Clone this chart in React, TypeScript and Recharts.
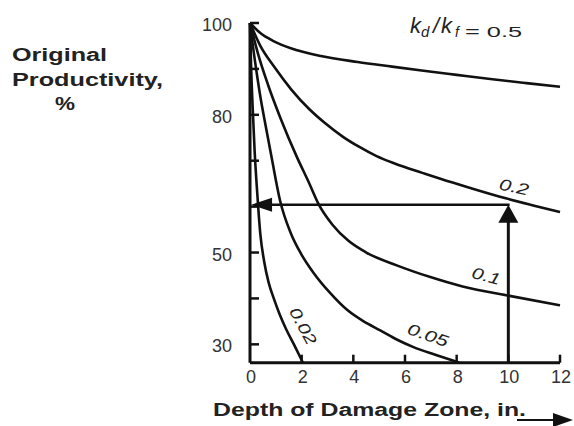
import React from "react";
import {
  LineChart,
  Line,
  XAxis,
  YAxis,
  ReferenceLine,
  ReferenceDot,
} from "recharts";

const FONT = "'Liberation Sans', Arial, Helvetica, sans-serif";
const INK = "#111";

const xTicks = [0, 2, 4, 6, 8, 10, 12];
const yTicks = [30, 40, 50, 60, 70, 80, 90, 100];
const yLabelled = [30, 50, 80, 100];

// curves: depth (in.) vs original productivity (%)
const ratio05 = [
  { x: 0, y: 100 }, { x: 0.4, y: 97.8 }, { x: 0.93, y: 96 }, { x: 1.58, y: 94.5 },
  { x: 2.74, y: 92.8 }, { x: 4.17, y: 91.5 }, { x: 5.5, y: 90.5 }, { x: 6.72, y: 89.6 },
  { x: 8, y: 88.7 }, { x: 9.3, y: 87.8 }, { x: 10.7, y: 86.9 }, { x: 12, y: 86.1 },
];
const ratio02 = [
  { x: 0, y: 100 }, { x: 0.4, y: 95 }, { x: 0.93, y: 90.5 }, { x: 1.6, y: 85.5 },
  { x: 2.3, y: 81.2 }, { x: 2.9, y: 78.2 }, { x: 3.6, y: 75.2 }, { x: 4.2, y: 73.1 },
  { x: 4.9, y: 71 }, { x: 5.6, y: 69.4 }, { x: 6.7, y: 67.3 }, { x: 7.4, y: 66 },
  { x: 8.5, y: 64.1 }, { x: 9.9, y: 61.8 }, { x: 11, y: 60.2 }, { x: 12, y: 58.8 },
];
const ratio01 = [
  { x: 0, y: 100 }, { x: 0.3, y: 93.5 }, { x: 0.7, y: 86.5 }, { x: 1.2, y: 79 },
  { x: 1.8, y: 71 }, { x: 2.3, y: 65 }, { x: 2.65, y: 60.6 }, { x: 3.2, y: 56 },
  { x: 3.8, y: 52.6 }, { x: 4.5, y: 50 }, { x: 5.68, y: 47.2 }, { x: 6.95, y: 44.7 },
  { x: 8.23, y: 42.6 }, { x: 10.1, y: 40.5 }, { x: 12, y: 38.5 },
];
const ratio005 = [
  { x: 0, y: 100 }, { x: 0.1, y: 95.5 }, { x: 0.25, y: 89.5 }, { x: 0.4, y: 84 },
  { x: 0.6, y: 77.8 }, { x: 0.85, y: 70.3 }, { x: 1.16, y: 61.4 }, { x: 1.58, y: 54.2 },
  { x: 2, y: 49.5 }, { x: 2.47, y: 45.5 }, { x: 3.1, y: 41.2 }, { x: 3.78, y: 37.4 },
  { x: 4.4, y: 35 }, { x: 5.06, y: 33 }, { x: 5.7, y: 31 }, { x: 6.33, y: 29.4 },
  { x: 7.2, y: 27.7 }, { x: 8.1, y: 26 },
];
const ratio002 = [
  { x: 0, y: 100 }, { x: 0.04, y: 91 }, { x: 0.1, y: 82 }, { x: 0.18, y: 72 },
  { x: 0.28, y: 63 }, { x: 0.4, y: 54 }, { x: 0.55, y: 48 }, { x: 0.72, y: 43.5 },
  { x: 0.92, y: 40 }, { x: 1.15, y: 36.5 }, { x: 1.4, y: 33.3 }, { x: 1.7, y: 30 },
  { x: 2.05, y: 26 },
];

// the worked example: 10 in. of damage with kd/kf = 0.2
const exampleDepth = 10;
const exampleResult = 60.4;

const curves = [ratio05, ratio02, ratio01, ratio005, ratio002];

const curveLabels = [
  { text: "0.2", x: 10.22, y: 64.3, angle: 12, len: 30 },
  { text: "0.1", x: 9.14, y: 44.9, angle: 15, len: 29 },
  { text: "0.05", x: 6.89, y: 32.0, angle: 19, len: 42 },
  { text: "0.02", x: 2.05, y: 34.0, angle: 62, len: 40 },
];

function YTick({ x, y, payload }: any) {
  const v = payload.value;
  return (
    <g>
      <line x1={x} x2={x + 9} y1={y} y2={y} stroke={INK} strokeWidth={2.5} />
      {yLabelled.includes(v) && (
        <text x={x - 18} y={y + 8} textAnchor="end" fontSize={18} fill="#333" fontFamily={FONT}>
          {v}
        </text>
      )}
    </g>
  );
}

function XTick({ x, y, payload }: any) {
  const v = payload.value;
  return (
    <g>
      {v !== 0 && <line x1={x} x2={x} y1={y} y2={y - 8} stroke={INK} strokeWidth={2.5} />}
      <text x={x + 1} y={y + 20} textAnchor="middle" fontSize={18} fill="#333" fontFamily={FONT}>
        {v}
      </text>
    </g>
  );
}

function CurveText({ cx, cy, text, angle, len }: any) {
  return (
    <text
      x={cx}
      y={cy}
      transform={`rotate(${angle}, ${cx}, ${cy})`}
      textAnchor="middle"
      dominantBaseline="central"
      fontSize={16}
      fontStyle="italic"
      fill="#222"
      fontFamily={FONT}
      textLength={len}
      lengthAdjust="spacingAndGlyphs"
    >
      {text}
    </text>
  );
}

function Titles() {
  const bold = { fontFamily: FONT, fontWeight: 700, fontSize: 18, fill: "#222" };
  return (
    <g>
      <text x={12} y={61} {...bold} textLength={95} lengthAdjust="spacingAndGlyphs">Original</text>
      <text x={12} y={86} {...bold} textLength={151} lengthAdjust="spacingAndGlyphs">Productivity,</text>
      <text x={55} y={110} {...bold} textLength={20} lengthAdjust="spacingAndGlyphs">%</text>
      <text x={213} y={416} {...bold} textLength={313} lengthAdjust="spacingAndGlyphs">
        Depth of Damage Zone, in.
      </text>
      <line x1={517} x2={556} y1={420} y2={420} stroke={INK} strokeWidth={2} />
      <polygon points="573,420 553,413 553,427" fill={INK} />
      <text fontFamily={FONT} fill="#222" fontStyle="italic">
        <tspan x={410} y={33} fontSize={22}>k</tspan>
        <tspan x={421} y={37} fontSize={15}>d</tspan>
        <tspan x={433} y={33} fontSize={22}>/</tspan>
        <tspan x={441} y={33} fontSize={22}>k</tspan>
        <tspan x={455} y={37} fontSize={14}>f</tspan>
      </text>
      <text x={465} y={37} fontFamily={FONT} fontSize={15} fill="#222" textLength={57} lengthAdjust="spacingAndGlyphs">
        = 0.5
      </text>
    </g>
  );
}

export default function App() {
  return (
    <div style={{ position: "absolute", left: 0, top: 0, background: "#fff" }}>
      <LineChart width={574} height={426} margin={{ top: 23, right: 14, left: 190, bottom: 33.3 }}>
        <XAxis
          type="number"
          dataKey="x"
          domain={[0, 12]}
          ticks={xTicks}
          height={30}
          tickSize={0}
          tickMargin={0}
          tickLine={false}
          axisLine={{ stroke: INK, strokeWidth: 3 }}
          tick={<XTick />}
        />
        <YAxis
          type="number"
          dataKey="y"
          domain={[26, 100]}
          ticks={yTicks}
          width={60}
          tickSize={0}
          tickMargin={0}
          tickLine={false}
          axisLine={{ stroke: INK, strokeWidth: 3 }}
          tick={<YTick />}
        />
        {curves.map((d, i) => (
          <Line
            key={i}
            data={d}
            dataKey="y"
            type="monotone"
            stroke={INK}
            strokeWidth={2.6}
            dot={false}
            activeDot={false}
            isAnimationActive={false}
          />
        ))}
        <ReferenceLine
          segment={[{ x: exampleDepth, y: 26 }, { x: exampleDepth, y: exampleResult - 3.2 }]}
          stroke={INK}
          strokeWidth={3}
        />
        <ReferenceLine
          segment={[{ x: 0.6, y: exampleResult }, { x: exampleDepth + 0.05, y: exampleResult }]}
          stroke={INK}
          strokeWidth={2.6}
        />
        <ReferenceDot
          x={exampleDepth}
          y={exampleResult}
          r={1}
          shape={(p: any) => (
            <polygon points={`${p.cx},${p.cy} ${p.cx - 10},${p.cy + 18} ${p.cx + 10},${p.cy + 18}`} fill={INK} />
          )}
        />
        <ReferenceDot
          x={0.04}
          y={exampleResult}
          r={1}
          shape={(p: any) => (
            <polygon points={`${p.cx},${p.cy} ${p.cx + 21},${p.cy - 7} ${p.cx + 21},${p.cy + 7}`} fill={INK} />
          )}
        />
        {curveLabels.map((l) => (
          <ReferenceDot
            key={l.text}
            x={l.x}
            y={l.y}
            r={1}
            shape={(p: any) => <CurveText cx={p.cx} cy={p.cy} text={l.text} angle={l.angle} len={l.len} />}
          />
        ))}
        <Titles />
      </LineChart>
    </div>
  );
}
